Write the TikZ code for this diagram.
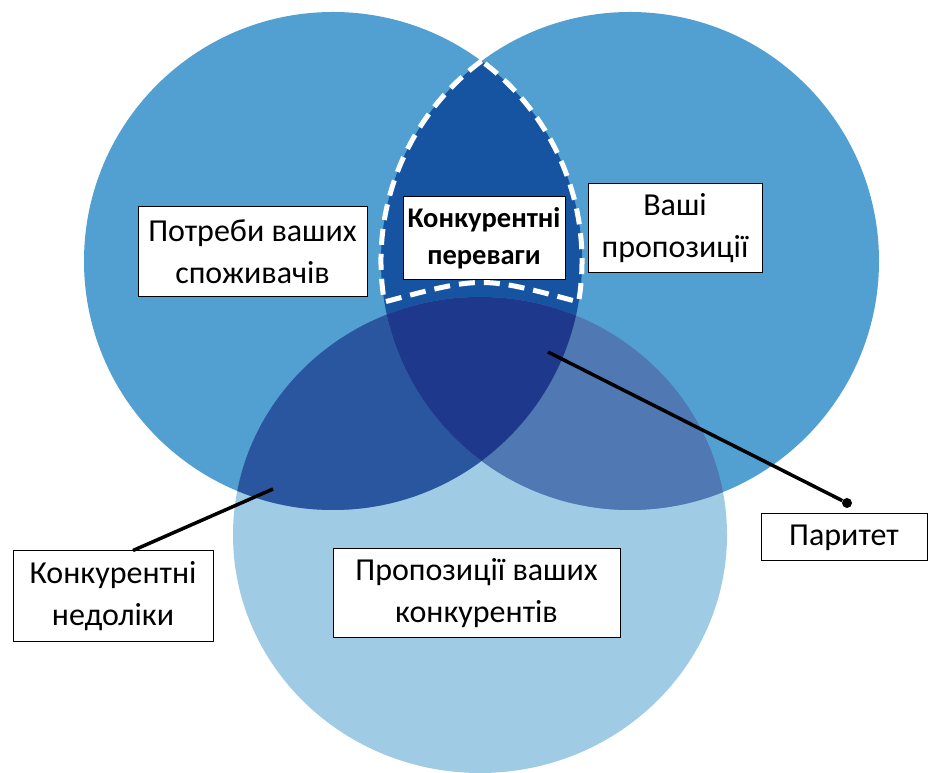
\documentclass[tikz,border=0pt]{standalone}
\usepackage{fontspec}
\setmainfont{Carlito}
\definecolor{outer}{RGB}{82,160,210}
\definecolor{lower}{RGB}{160,203,229}
\definecolor{lens}{RGB}{22,84,162}
\definecolor{leftlow}{RGB}{42,86,160}
\definecolor{rightlow}{RGB}{80,121,180}
\definecolor{core}{RGB}{30,56,140}

\begin{document}
\begin{tikzpicture}[
  x=1pt, y=1pt,
  label box/.style = {shape=rectangle, draw, fill=white, line width=1pt, align=center, inner sep=0pt,
                      font=\fontsize{32}{42}\selectfont},
  lens edge/.style = {draw=white, line width=5pt, dash pattern=on 16pt off 9pt},
  pointer/.style = {draw=black, line width=3.5pt}
]
  \useasboundingbox (0,0) rectangle (929,773);
  \def\leftdisc{(333,512) circle[radius=249]}
  \def\rightdisc{(630,512) circle[radius=249]}
  \def\lowdisc{(480,238) ellipse[x radius=247, y radius=238]}

  \fill[lower] \lowdisc;
  \fill[outer] \leftdisc;
  \fill[outer] \rightdisc;
  \begin{scope}
    \clip \leftdisc;
    \fill[lens] \rightdisc;
    \fill[leftlow] \lowdisc;
  \end{scope}
  \begin{scope}
    \clip \rightdisc;
    \fill[rightlow] \lowdisc;
    \clip \leftdisc;
    \fill[core] \lowdisc;
  \end{scope}

  \coordinate (cusp) at (481.5,712);
  \draw[lens edge] (cusp) arc[start angle=126.6, end angle=189.5, radius=249]
    .. controls (481.5,497) .. (578.6,471)
    arc[start angle=-9.5, end angle=53.4, radius=249] -- cycle;

  \node[label box, minimum width=229pt, minimum height=90pt] (needs) at (252.5,521) {Потреби ваших\\споживачів};
  \node[label box, font=\fontsize{28.5}{37}\selectfont\bfseries, minimum width=162pt, minimum height=83pt]
    (advantages) at (484,534.5) {Конкурентні\\переваги};
  \node[label box, minimum width=174pt, minimum height=89pt] (offers) at (675,544.5) {Ваші\\пропозиції};
  \node[label box, minimum width=200pt, minimum height=91pt] (weaknesses) at (113,176.5) {Конкурентні\\недоліки};
  \node[label box, minimum width=287pt, minimum height=89pt] (rivals) at (476.5,179.5) {Пропозиції ваших\\конкурентів};
  \node[label box, minimum width=166pt, minimum height=47pt] (parity) at (844,235.5) {Паритет};

  \coordinate (weak spot) at (273,284);
  \draw[pointer] (weak spot) -- ([xshift=20pt]weaknesses.north);
  \coordinate (parity spot) at (548,421);
  \node[circle, fill=black, inner sep=0pt, minimum size=10pt] (parity dot) at (847,270) {};
  \draw[pointer] (parity spot) -- (parity dot);
\end{tikzpicture}
\end{document}
